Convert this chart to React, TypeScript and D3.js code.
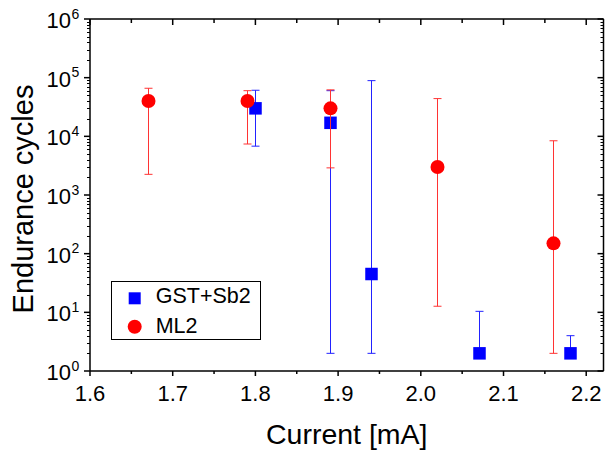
import React from "react";
import * as d3 from "d3";

const gstX = [1.8, 1.89, 1.94, 2.07, 2.18];
const gstY = [3.0e4, 1.7e4, 45, 2, 2];
const gstHi = [6.1e4, 6.0e4, 8.9e4, 10.4, 4.0];
const gstLo = [6.8e3, 2, 2, 2, 2];

const mlX = [1.67, 1.79, 1.89, 2.02, 2.16];
const mlY = [4.0e4, 4.0e4, 3.0e4, 3.0e3, 150];
const mlHi = [6.6e4, 6.0e4, 6.2e4, 4.4e4, 8.4e3];
const mlLo = [2.25e3, 7.4e3, 2.9e3, 12.7, 2];

const xTicks = [1.6, 1.7, 1.8, 1.9, 2.0, 2.1, 2.2];
const xMinor = [1.65, 1.75, 1.85, 1.95, 2.05, 2.15];
const yExps = [0, 1, 2, 3, 4, 5, 6];

const legendNames = ["GST+Sb2", "ML2"];

const W = 606;
const H = 450;
const FONT = "'Liberation Sans', Arial, Helvetica, sans-serif";

export default function App() {
  const left = 90, right = 603.5, top = 19, bottom = 371;
  const x = d3.scaleLinear().domain([1.6, 2.2209]).range([left, right]);
  const y = d3.scaleLog().domain([1, 1e6]).range([bottom, top]);

  const minorY: number[] = [];
  for (let e = 0; e < 6; e++) for (let k = 2; k <= 9; k++) minorY.push(k * Math.pow(10, e));

  const cap = 4;
  const errBars = (xs: number[], lo: number[], hi: number[], color: string, key: string) =>
    xs.map((v, i) => {
      const cx = Math.round(x(v)) + 0.5;
      const y1 = y(lo[i]);
      const y2 = y(hi[i]);
      return (
        <g key={key + i} stroke={color} strokeWidth={1}>
          <line x1={cx} x2={cx} y1={y1} y2={y2} />
          <line x1={cx - cap} x2={cx + cap} y1={y1} y2={y1} />
          <line x1={cx - cap} x2={cx + cap} y1={y2} y2={y2} />
        </g>
      );
    });

  const sq = 12.5;
  const r = 7;

  return (
    <svg width={W} height={H} style={{ position: "absolute", left: 0, top: 0, background: "#fff" }} fontFamily={FONT}>
      <rect x={0} y={0} width={W} height={H} fill="#fff" />
      {/* data */}
      {errBars(gstX, gstLo, gstHi, "#2222ff", "ge")}
      {gstX.map((v, i) => (
        <rect key={"gs" + i} x={Math.round(x(v)) + 0.5 - sq / 2} y={y(gstY[i]) - sq / 2} width={sq} height={sq} fill="#0000ff" />
      ))}
      {errBars(mlX, mlLo, mlHi, "#ff3333", "me")}
      {mlX.map((v, i) => (
        <circle key={"mc" + i} cx={Math.round(x(v)) + 0.5} cy={y(mlY[i])} r={r} fill="#ff0000" />
      ))}

      {/* frame */}
      <g stroke="#000" strokeWidth={1.5} fill="none">
        <line x1={left} x2={right} y1={top} y2={top} />
        <line x1={left} x2={right} y1={bottom} y2={bottom} />
        <line x1={left} x2={left} y1={top} y2={bottom} />
        <line x1={right} x2={right} y1={top} y2={bottom} />
      </g>
      {/* x ticks */}
      <g stroke="#000" strokeWidth={1.5}>
        {xTicks.map((t) => (
          <g key={"xt" + t}>
            <line x1={x(t)} x2={x(t)} y1={bottom} y2={bottom + 5} />
            <line x1={x(t)} x2={x(t)} y1={top} y2={top + 6} />
          </g>
        ))}
        {xMinor.map((t) => (
          <g key={"xm" + t}>
            <line x1={x(t)} x2={x(t)} y1={bottom} y2={bottom + 3} />
            <line x1={x(t)} x2={x(t)} y1={top} y2={top + 4} />
          </g>
        ))}
        {yExps.map((e) => (
          <g key={"yt" + e}>
            <line x1={left - 6} x2={left} y1={y(Math.pow(10, e))} y2={y(Math.pow(10, e))} />
            <line x1={right - 6} x2={right} y1={y(Math.pow(10, e))} y2={y(Math.pow(10, e))} />
          </g>
        ))}
      </g>
      <g stroke="#000" strokeWidth={1}>
        {minorY.map((v, i) => (
          <g key={"ym" + i}>
            <line x1={left - 3} x2={left} y1={Math.round(y(v)) + 0.5} y2={Math.round(y(v)) + 0.5} />
            <line x1={right - 3} x2={right} y1={Math.round(y(v)) + 0.5} y2={Math.round(y(v)) + 0.5} />
          </g>
        ))}
      </g>
      {/* tick labels */}
      {xTicks.map((t) => (
        <text key={"xl" + t} x={x(t)} y={401} textAnchor="middle" fontSize={22} fill="#000">
          {t.toFixed(1)}
        </text>
      ))}
      {yExps.map((e) => (
        <g key={"yl" + e}>
          <text x={71} y={y(Math.pow(10, e)) + 9} textAnchor="end" fontSize={22} fill="#000">10</text>
          <text x={71.5} y={y(Math.pow(10, e)) - 0.5} textAnchor="start" fontSize={14} fill="#000">{e}</text>
        </g>
      ))}
      {/* axis titles */}
      <text x={(left + right) / 2} y={444} textAnchor="middle" fontSize={28.5} fill="#000">Current [mA]</text>
      <text transform={`translate(33,${(top + bottom) / 2 + 4}) rotate(-90)`} textAnchor="middle" fontSize={29} fill="#000">Endurance cycles</text>

      {/* legend */}
      <rect x={111.5} y={281.5} width={149} height={58} fill="#fff" stroke="#000" strokeWidth={1} />
      <rect x={134.7 - 6} y={298.3 - 6} width={12} height={12} fill="#0000ff" />
      <circle cx={134.7} cy={326.7} r={7} fill="#ff0000" />
      <text x={155.7} y={303.3} fontSize={21.5} fill="#000">{legendNames[0]}</text>
      <text x={155.7} y={332.7} fontSize={21.5} fill="#000">{legendNames[1]}</text>
    </svg>
  );
}
